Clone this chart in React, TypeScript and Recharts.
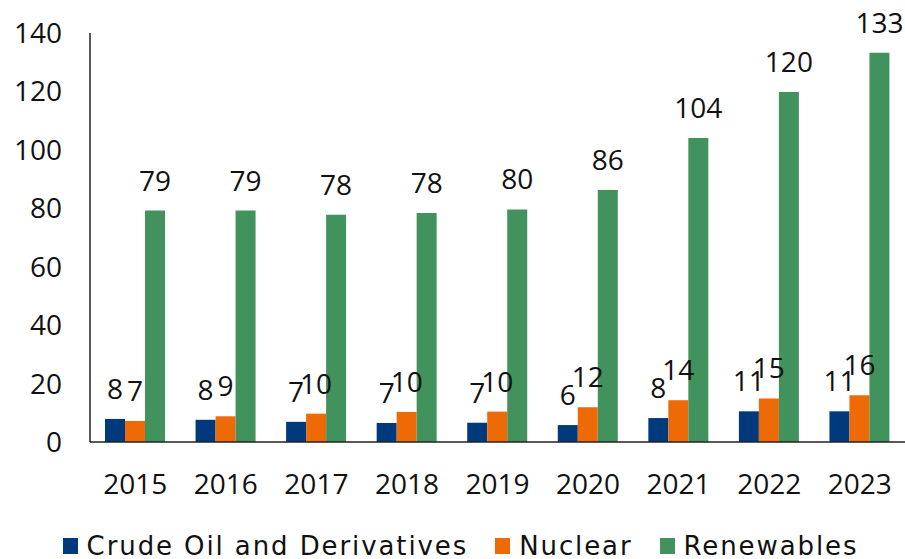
import React from "react";
import { BarChart, Bar, XAxis, YAxis, Legend, LabelList } from "recharts";

const years = ["2015", "2016", "2017", "2018", "2019", "2020", "2021", "2022", "2023"];
const crudeOil = [7.9, 7.6, 6.9, 6.5, 6.6, 5.8, 8.2, 10.5, 10.5];
const nuclear = [7.2, 8.8, 9.7, 10.3, 10.4, 11.9, 14.3, 14.9, 16.0];
const renewables = [79.2, 79.2, 77.8, 78.4, 79.6, 86.3, 104.1, 119.8, 133.2];
const yTicks = [0, 20, 40, 60, 80, 100, 120, 140];

const seriesNames = ["Crude Oil and Derivatives", "Nuclear", "Renewables"];
const colors = ["#003A7D", "#EE6A06", "#41925D"];

const data = years.map((y, i) => ({
  year: y,
  crude: crudeOil[i],
  nuclear: nuclear[i],
  renewables: renewables[i],
}));

const FONT = "'Open Sans', 'DejaVu Sans', sans-serif";
const LEGEND_FONT = "'DejaVu Sans', sans-serif";

const fmt = (v: any) => Math.round(Number(v));

const LegendContent = () => (
  <div
    style={{
      display: "flex",
      justifyContent: "center",
      alignItems: "center",
      height: 27,
      fontFamily: LEGEND_FONT,
      fontSize: 26,
      color: "#111",
      whiteSpace: "nowrap",
      lineHeight: "24px",
      paddingLeft: 16,
    }}
  >
    {seriesNames.map((n, i) => (
      <div key={n} style={{ display: "flex", alignItems: "center", marginRight: i < 2 ? 27 : 0 }}>
        <div style={{ width: 15, height: 16, background: colors[i], marginRight: 9 }} />
        <span style={{ letterSpacing: 1.9 }}>{n}</span>
      </div>
    ))}
  </div>
);

export default function App() {
  return (
    <div style={{ position: "absolute", left: 0, top: 0, width: 905, height: 559, background: "#fff" }}>
      <BarChart
        width={905}
        height={559}
        data={data}
        margin={{ top: 33, right: 0, bottom: 0, left: 0 }}
        barGap={0}
        barCategoryGap={15}
      >
        <XAxis
          dataKey="year"
          axisLine={{ stroke: "#222", strokeWidth: 1.5 }}
          tickLine={false}
          tickSize={0}
          tickMargin={32}
          height={90}
          tick={{ fill: "#111", fontSize: 28, fontFamily: FONT }}
          interval={0}
        />
        <YAxis
          domain={[0, 140]}
          ticks={yTicks}
          width={90}
          axisLine={{ stroke: "#222", strokeWidth: 1.5 }}
          tickLine={false}
          tickSize={0}
          tickMargin={28}
          tick={{ fill: "#111", fontSize: 28, fontFamily: FONT }}
          interval={0}
        />
        <Legend verticalAlign="bottom" height={27} content={<LegendContent />} />
        <Bar dataKey="crude" name={seriesNames[0]} fill={colors[0]} barSize={20} isAnimationActive={false}>
          <LabelList dataKey="crude" position="top" offset={20} formatter={fmt} style={{ fill: "#111", fontSize: 28, fontFamily: FONT }} />
        </Bar>
        <Bar dataKey="nuclear" name={seriesNames[1]} fill={colors[1]} barSize={20} isAnimationActive={false}>
          <LabelList dataKey="nuclear" position="top" offset={20} formatter={fmt} style={{ fill: "#111", fontSize: 28, fontFamily: FONT }} />
        </Bar>
        <Bar dataKey="renewables" name={seriesNames[2]} fill={colors[2]} barSize={20} isAnimationActive={false}>
          <LabelList dataKey="renewables" position="top" offset={20} formatter={fmt} style={{ fill: "#111", fontSize: 28, fontFamily: FONT }} />
        </Bar>
      </BarChart>
    </div>
  );
}
